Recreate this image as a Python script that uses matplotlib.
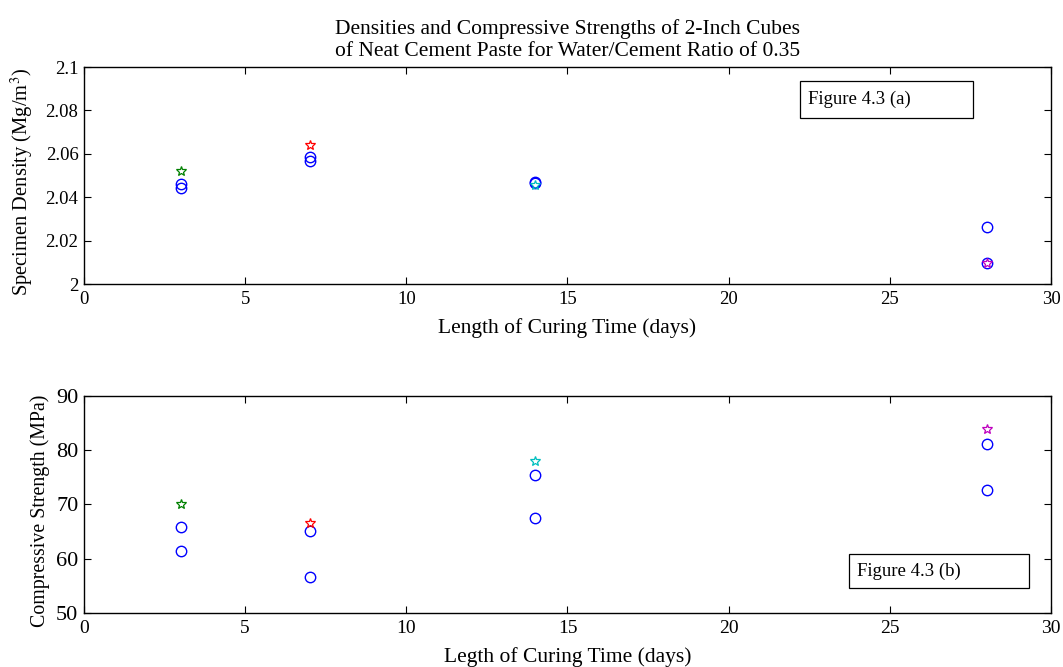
import matplotlib
matplotlib.use('Agg')
import matplotlib.pyplot as plt
from matplotlib.patches import Rectangle

plt.rcParams['font.family'] = ['Liberation Serif', 'DejaVu Serif']
plt.rcParams['mathtext.fontset'] = 'stix'

# Densities (Mg/m^3), specimens per curing age
days_circ = [3, 3, 7, 7, 14, 14, 28, 28]
dens_circ = [2.0463, 2.0442, 2.0585, 2.0568, 2.0472, 2.0466, 2.0265, 2.0096]
days_star = [3, 7, 14, 28]
dens_star = [2.0520, 2.0640, 2.0457, 2.0095]

# Compressive strengths (MPa)
str_circ = [65.8, 61.5, 65.2, 56.6, 75.4, 67.5, 81.1, 72.6]
days_str_circ = [3, 3, 7, 7, 14, 14, 28, 28]
str_star = [70.1, 66.5, 78.1, 84.0]

star_colors = ['#008000', '#ff0000', '#00bfbf', '#bf00bf']

fig = plt.figure(figsize=(10.63, 6.67), dpi=100)
ax1 = fig.add_axes([0.079, 0.5742, 0.9097, 0.3253])
ax2 = fig.add_axes([0.079, 0.081, 0.9097, 0.3253])

def style(ax, xsize, ysize):
    ax.set_xlim(0, 30)
    ax.set_xticks(range(0, 31, 5))
    ax.tick_params(direction='in', top=True, right=True, length=5,
                   width=0.8, pad=5)
    ax.tick_params(axis='x', labelsize=xsize)
    ax.tick_params(axis='y', labelsize=ysize, pad=4)
    for s in ax.spines.values():
        s.set_linewidth(1.0)

# top panel
ax1.plot(days_circ, dens_circ, 'o', mfc='none', mec='blue', ms=7.5, mew=1)
for d, v, c in zip(days_star, dens_star, star_colors):
    ax1.plot(d, v, marker='*', mfc='none', mec=c, ms=7, mew=0.9, ls='none')
style(ax1, 13.5, 13.5)
ax1.set_ylim(2.0, 2.1)
ax1.set_yticks([2.0, 2.02, 2.04, 2.06, 2.08, 2.1])
ax1.set_yticklabels(['2', '2.02', '2.04', '2.06', '2.08', '2.1'])
ax1.set_xlabel('Length of Curing Time (days)', fontsize=15.5)
ax1.xaxis.set_label_coords(0.5, -0.155)
ax1.set_ylabel(r'Specimen Density (Mg/m$^3$)', fontsize=14.8)
ax1.yaxis.set_label_coords(-0.051, 0.47)
ax1.set_title('Densities and Compressive Strengths of 2-Inch Cubes\n'
              'of Neat Cement Paste for Water/Cement Ratio of 0.35',
              fontsize=15.5, linespacing=1.2, pad=8)

# bottom panel
ax2.plot(days_str_circ, str_circ, 'o', mfc='none', mec='blue', ms=7.5, mew=1)
for d, v, c in zip(days_star, str_star, star_colors):
    ax2.plot(d, v, marker='*', mfc='none', mec=c, ms=7, mew=0.9, ls='none')
style(ax2, 14, 16)
ax2.set_ylim(50, 90)
ax2.set_yticks(range(50, 91, 10))
ax2.set_xlabel('Legth of Curing Time (days)', fontsize=15.5)
ax2.xaxis.set_label_coords(0.5, -0.155)
ax2.set_ylabel('Compressive Strength (MPa)', fontsize=14.3)
ax2.yaxis.set_label_coords(-0.035, 0.47)

# annotation boxes (figure pixel positions converted to fractions)
W, H = 1063.0, 667.0
for (x0, y0, x1, y1, txt) in [(800, 81, 973, 118, 'Figure 4.3 (a)'),
                              (849, 554, 1029, 588, 'Figure 4.3 (b)')]:
    fig.patches.append(Rectangle((x0 / W, 1 - y1 / H), (x1 - x0) / W, (y1 - y0) / H,
                                 transform=fig.transFigure, fill=False,
                                 ec='black', lw=0.9))
    fig.text((x0 + 8) / W, 1 - (y0 + y1) / 2 / H, txt, fontsize=13.5,
             va='center', ha='left')

fig.savefig('out.png', dpi=100)
